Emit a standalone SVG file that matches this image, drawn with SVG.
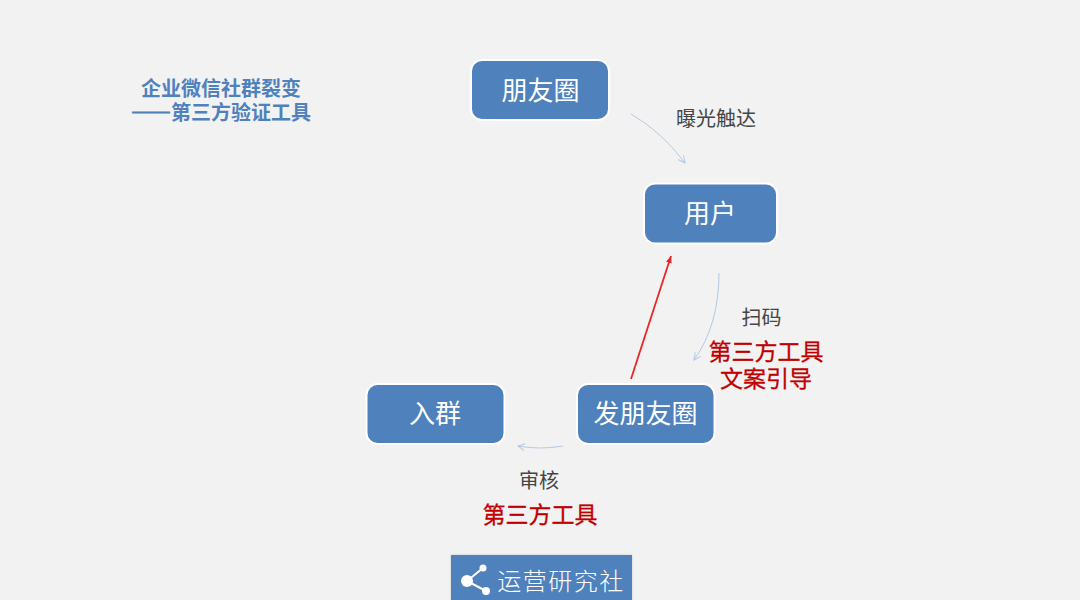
<svg xmlns="http://www.w3.org/2000/svg" width="1080" height="600" viewBox="0 0 1080 600" xml:lang="zh-CN" lang="zh-CN">
<style>
text{font-family:"Noto Sans CJK SC","Noto Sans",sans-serif;text-anchor:middle}
.n{fill:#4f81bd;stroke:#fff;stroke-width:2}
.nt{fill:#fff;font-size:26px}
.d{fill:#454545;font-size:20px}
.r{fill:#c00000;font-size:23px;font-weight:400;stroke:#c00000;stroke-width:.3}
.t{fill:#4f81bd;font-size:20px;font-weight:700}
.c{fill:none;stroke:#b4c9e4;stroke-width:1}
</style>
<defs>
<marker id="a" markerWidth="9" markerHeight="9" refX="7" refY="3.500" orient="auto" markerUnits="userSpaceOnUse"><path d="M0 0L7 3.500L0 7" fill="none" stroke="#b4c9e4"/></marker>
<marker id="b" markerWidth="8" markerHeight="8" refX="7" refY="3" orient="auto" markerUnits="userSpaceOnUse"><path d="M0 0L7 3L0 6Z" fill="#e8262a"/></marker>
<filter id="s" x="-5%" y="-5%" width="110%" height="110%"><feDropShadow dx="0" dy="0" stdDeviation="1" flood-color="#000" flood-opacity=".18"/></filter>
</defs>
<rect width="1080" height="600" fill="#f2f2f2"/>
<g id="title"><text class="t" x="221" y="96">企业微信社群裂变</text><text class="t" x="221" y="120" textLength="180" lengthAdjust="spacing"><tspan stroke="#4f81bd" stroke-width="1">——</tspan>第三方验证工具</text></g>
<g id="connectors">
<path class="c" marker-end="url(#a)" d="M631 114Q662 132 685 163"/>
<path class="c" marker-end="url(#a)" d="M719 273Q719 325 694 360"/>
<path class="c" marker-end="url(#a)" d="M563 446Q540 450 518 446"/>
<path fill="none" stroke="#e8262a" stroke-width="1.800" marker-end="url(#b)" d="M631 379L671 256"/>
</g>
<g id="node-pengyouquan"><rect class="n" x="471" y="60" width="138" height="60" rx="11"/><text class="nt" x="540.500" y="100">朋友圈</text></g>
<g id="node-yonghu"><rect class="n" x="644" y="183.500" width="133" height="60" rx="11"/><text class="nt" x="710" y="223">用户</text></g>
<g id="node-fapengyouquan"><rect class="n" x="577" y="384" width="137.500" height="60" rx="11"/><text class="nt" x="645.500" y="423">发朋友圈</text></g>
<g id="node-ruqun"><rect class="n" x="366.500" y="384" width="138" height="60" rx="11"/><text class="nt" x="435" y="423">入群</text></g>
<g id="labels">
<text class="d" x="716" y="126">曝光触达</text>
<text class="d" x="761.500" y="325">扫码</text>
<text class="r" x="766" y="360">第三方工具</text>
<text class="r" x="766" y="387">文案引导</text>
<text class="d" x="539" y="488">审核</text>
<text class="r" x="540" y="523">第三方工具</text>
</g>
<g id="logo">
<rect x="451" y="555" width="181" height="45" fill="#4f81bd" filter="url(#s)"/>
<path d="M467 581L483 568M467 581L486 591" stroke="#fff" stroke-width="2" fill="none"/>
<circle cx="467" cy="581" r="6" fill="#fff"/><circle cx="483" cy="568" r="3.500" fill="#fff"/><circle cx="486" cy="591" r="4" fill="#fff"/>
<text x="561" y="590" font-size="24" fill="#fff" font-weight="300" letter-spacing="1.500">运营研究社</text>
</g>
</svg>
